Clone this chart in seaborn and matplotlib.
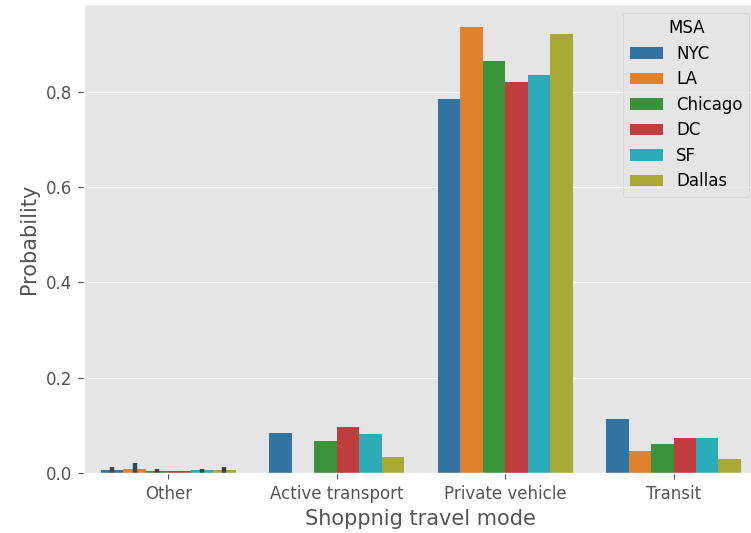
import pandas as pd
import numpy as np
import matplotlib
matplotlib.use('Agg')
import matplotlib.pyplot as plt
import seaborn as sns

plt.style.use('ggplot')

modes = ['Other', 'Active transport', 'Private vehicle', 'Transit']
msas = ['NYC', 'LA', 'Chicago', 'DC', 'SF', 'Dallas']

# probability per travel mode, one list per MSA (order follows `modes`)
nyc = [0.007, 0.085, 0.784, 0.114]
la = [0.010, 0.0, 0.936, 0.046]
chicago = [0.005, 0.067, 0.863, 0.061]
dc = [0.005, 0.096, 0.819, 0.074]
sf = [0.006, 0.082, 0.834, 0.074]
dallas = [0.006, 0.034, 0.920, 0.031]

# confidence interval on the "Other" bars (DC has none)
other_lo = [0.001, 0.001, 0.001, np.nan, 0.001, 0.001]
other_hi = [0.013, 0.021, 0.010, np.nan, 0.010, 0.014]

palette = ['#1f77b4', '#ff7f0e', '#2ca02c', '#d62728', '#17becf', '#bcbd22']

rows = []
for name, vals in zip(msas, [nyc, la, chicago, dc, sf, dallas]):
    for mode, v in zip(modes, vals):
        rows.append({'mode': mode, 'MSA': name, 'prob': v})
df = pd.DataFrame(rows)

fig, ax = plt.subplots(figsize=(7.51, 5.33), dpi=100)
sns.barplot(data=df, x='mode', y='prob', hue='MSA', order=modes, hue_order=msas,
            palette=palette, errorbar=None, linewidth=0.6, ax=ax)

# error bars for the "Other" category
for i, cont in enumerate(ax.containers):
    bar = cont.patches[0]
    xc = bar.get_x() + bar.get_width() / 2
    if not np.isnan(other_lo[i]):
        ax.plot([xc, xc], [other_lo[i], other_hi[i]], color='.26', lw=3.2,
                solid_capstyle='butt')

ax.set_xlim(-0.5, 3.5)
ax.set_xlabel('Shoppnig travel mode', fontsize=15)
ax.set_ylabel('Probability', fontsize=15, labelpad=5)
ax.tick_params(labelsize=12, length=4, pad=4.5)
leg = ax.legend(title='MSA', loc='upper right', fontsize=12, title_fontsize=12,
                labelspacing=0.45)
ax.grid(axis='x', visible=False)
plt.subplots_adjust(left=0.112, right=1.009, top=0.992, bottom=0.112)
plt.savefig('out.png', dpi=100)
